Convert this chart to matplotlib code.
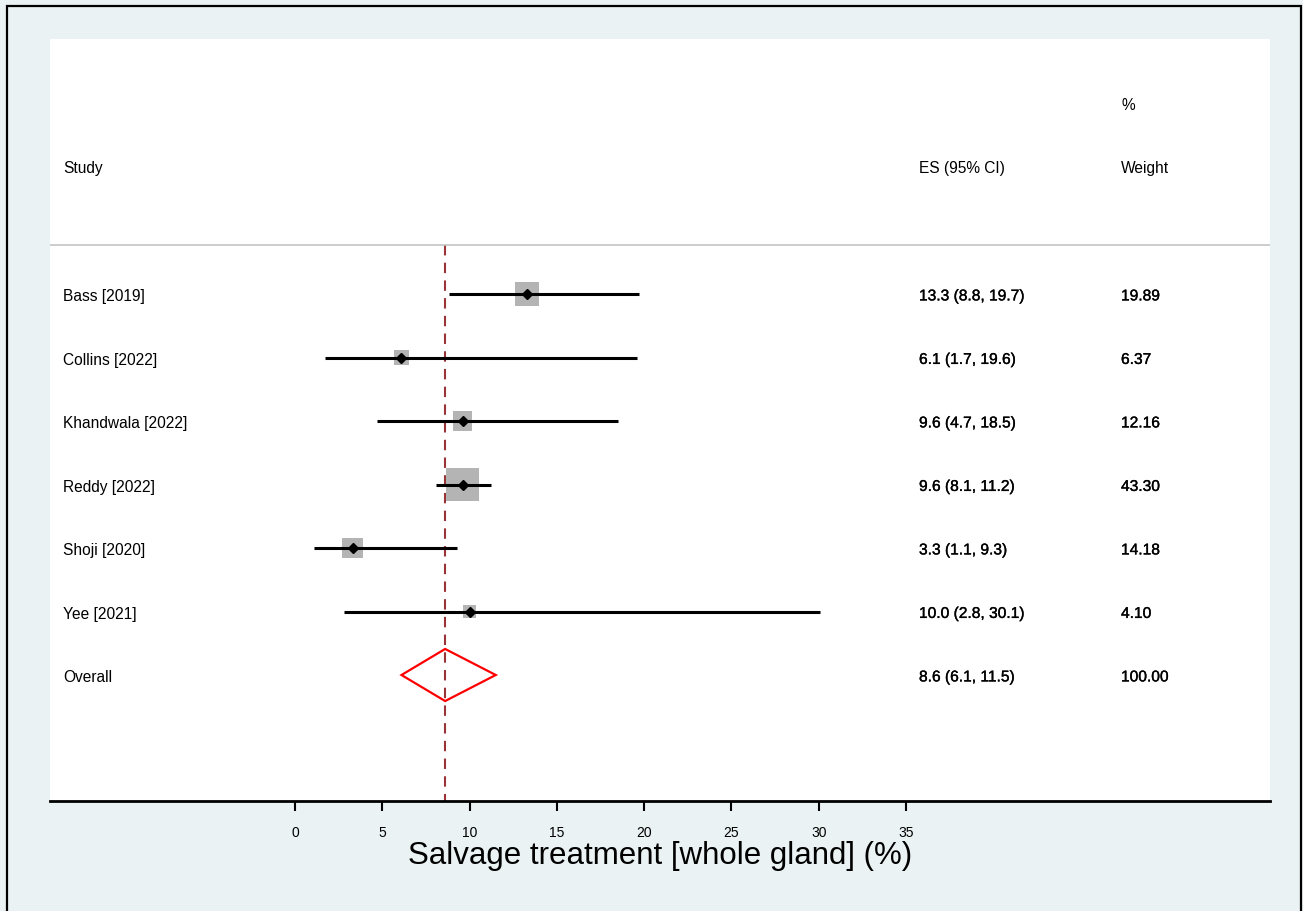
import numpy as np
import matplotlib
matplotlib.use("Agg")
from matplotlib import pyplot as plt
from matplotlib.patches import Rectangle, Polygon
import matplotlib.patheffects as pe
import matplotlib.transforms as mtransforms

# data
studies = ["Bass [2019]", "Collins [2022]", "Khandwala [2022]", "Reddy [2022]",
           "Shoji [2020]", "Yee [2021]"]
es = [13.3, 6.1, 9.6, 9.6, 3.3, 10.0]
lo = [8.8, 1.7, 4.7, 8.1, 1.1, 2.8]
hi = [19.7, 19.6, 18.5, 11.2, 9.3, 30.1]
weight = [19.89, 6.37, 12.16, 43.30, 14.18, 4.10]

overall_es = 8.6
overall_lo = 6.1
overall_hi = 11.5
overall_w = 100.00

xticks = [0, 5, 10, 15, 20, 25, 30, 35]
xlabel = "Salvage treatment [whole gland] (%)"

BG = "#eaf2f3"
plt.rcParams['font.family'] = ['Liberation Sans', 'DejaVu Sans']

W, H = 1303, 912
fig = plt.figure(figsize=(W / 100, H / 100), dpi=100, facecolor=BG)

# plot region in pixels
x0, x1, y0, y1 = 50, 1270, 40, 802
ax = fig.add_axes([x0 / W, (H - y1) / H, (x1 - x0) / W, (y1 - y0) / H])
ax.set_facecolor("white")

# x scale: 0 at px 295, 35 at px 906
ppu = (906 - 295) / 35.0
ax.set_xlim(0 - (295 - x0) / ppu, 35 + (x1 - 906) / ppu)
# y: rows spaced 63.5 px, first row at px 295
rs = 63.5
ax.set_ylim((y1 - 295) / rs, (y0 - 295) / rs)

for s in ["top", "left", "right"]:
    ax.spines[s].set_visible(False)
ax.spines["bottom"].set_linewidth(2.0)
ax.set_yticks([])
ax.set_xticks(xticks)
ax.set_xticklabels([str(t) for t in xticks], fontsize=10)
ax.tick_params(axis="x", length=7, width=1.5, pad=10)
ax.set_xlabel(xlabel, fontsize=22.5, labelpad=1)

rows = np.arange(len(studies))

# header separator
sep_y = (246 - 295) / rs
ax.axhline(sep_y, color="#c4c4c4", lw=1.2)

# overall line
ax.plot([overall_es, overall_es], [sep_y, ax.get_ylim()[0]], color="#993338",
        lw=1.5, ls=(0, (5, 3.5)), zorder=1)

# boxes sized by weight
side_px = 4.39 * np.sqrt(weight) + 4.1
ax.scatter(es, rows, marker="s", s=(side_px * 0.72) ** 2, color="#b4b4b4",
           linewidths=0, zorder=2)
ax.hlines(rows, lo, hi, color="black", lw=2.2, zorder=3)
ax.plot(es, rows, "D", color="black", ms=5.5, zorder=4)

# overall diamond
orow = len(studies)
ax.add_patch(Polygon([[overall_lo, orow], [overall_es, orow - 0.41],
                      [overall_hi, orow], [overall_es, orow + 0.41]],
                     closed=True, fill=False, edgecolor="#ff0000", lw=1.6, zorder=4))

# text columns
tr = mtransforms.blended_transform_factory(ax.transAxes, ax.transData)
xs, xe, xw = (63 - x0) / (x1 - x0), (919 - x0) / (x1 - x0), (1121 - x0) / (x1 - x0)
fs = 11.2
num_fx = [pe.withStroke(linewidth=0.25, foreground="black")]
dy = 0.03
hy = (169 - 295) / rs
ax.text(xs, hy, "Study", transform=tr, va="center", fontsize=fs)
ax.text(xe, hy, "ES (95% CI)", transform=tr, va="center", fontsize=fs)
ax.text(xw, hy, "Weight", transform=tr, va="center", fontsize=fs)
ax.text(xw, (105 - 295) / rs, "%", transform=tr, va="center", fontsize=fs)

for i, name in enumerate(studies):
    ax.text(xs, i + dy, name, transform=tr, va="center", fontsize=fs)
    ax.text(xe, i + dy, f"{es[i]:.1f} ({lo[i]:.1f}, {hi[i]:.1f})", transform=tr,
            va="center", fontsize=fs, path_effects=num_fx)
    ax.text(xw, i + dy, f"{weight[i]:.2f}", transform=tr, va="center", fontsize=fs,
            path_effects=num_fx)

ax.text(xs, orow + dy, "Overall", transform=tr, va="center", fontsize=fs)
ax.text(xe, orow + dy, f"{overall_es:.1f} ({overall_lo:.1f}, {overall_hi:.1f})",
        transform=tr, va="center", fontsize=fs, path_effects=num_fx)
ax.text(xw, orow + dy, f"{overall_w:.2f}", transform=tr, va="center", fontsize=fs,
        path_effects=num_fx)

# outer frame
fig.patches.append(Rectangle((7, -10), 1294, H - 7 + 10, transform=None,
                             fill=False, edgecolor="black", lw=1.6))

fig.savefig("out.png", dpi=100, facecolor=BG)
